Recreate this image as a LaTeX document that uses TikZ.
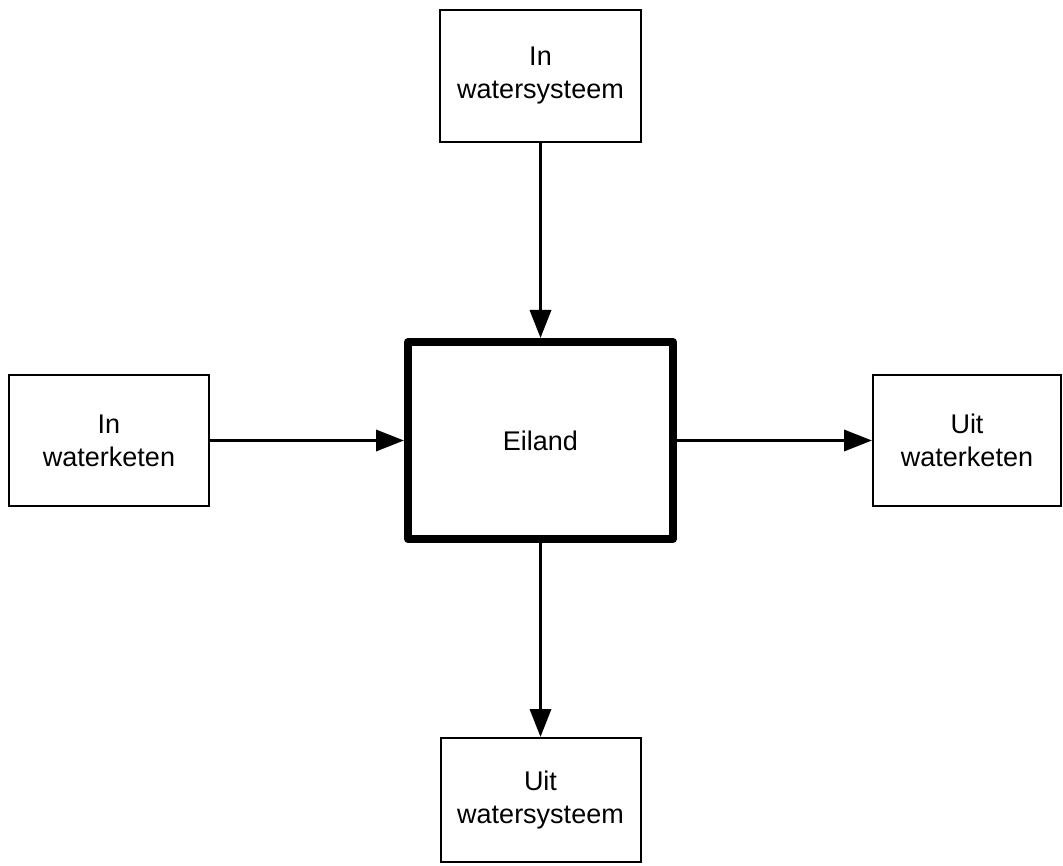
\documentclass[tikz,border=0pt]{standalone}
\usepackage{fontspec}
\setmainfont{Liberation Sans}
\usetikzlibrary{arrows.meta}
\begin{document}
\begin{tikzpicture}[x=1pt,y=-1pt,
  box/.style={draw=black,line width=2pt,fill=white,inner sep=0pt,align=center,
    font=\fontsize{27}{33}\selectfont},
  mainbox/.style={box,line width=8pt,line join=round},
  flow/.style={line width=3.5pt,-{Triangle[length=28pt,width=21pt]}}]
\useasboundingbox (0,0) rectangle (1063,866);
\node[box,minimum width=201pt,minimum height=132pt] (top) at (540.5,76) {In\\watersysteem};
\node[mainbox,minimum width=265pt,minimum height=197pt] (eiland) at (540.5,440.5) {Eiland};
\node[box,minimum width=200pt,minimum height=131pt] (left) at (109,440.5) {In\\waterketen};
\node[box,minimum width=188pt,minimum height=131pt] (right) at (967,440.5) {Uit\\waterketen};
\node[box,minimum width=200pt,minimum height=124pt] (bottom) at (540.5,800) {Uit\\watersysteem};
\draw[flow] (top.south) -- (eiland.north);
\draw[flow] (left.east) -- (eiland.west);
\draw[flow] (eiland.east) -- (right.west);
\draw[flow] (eiland.south) -- (bottom.north);
\end{tikzpicture}
\end{document}
